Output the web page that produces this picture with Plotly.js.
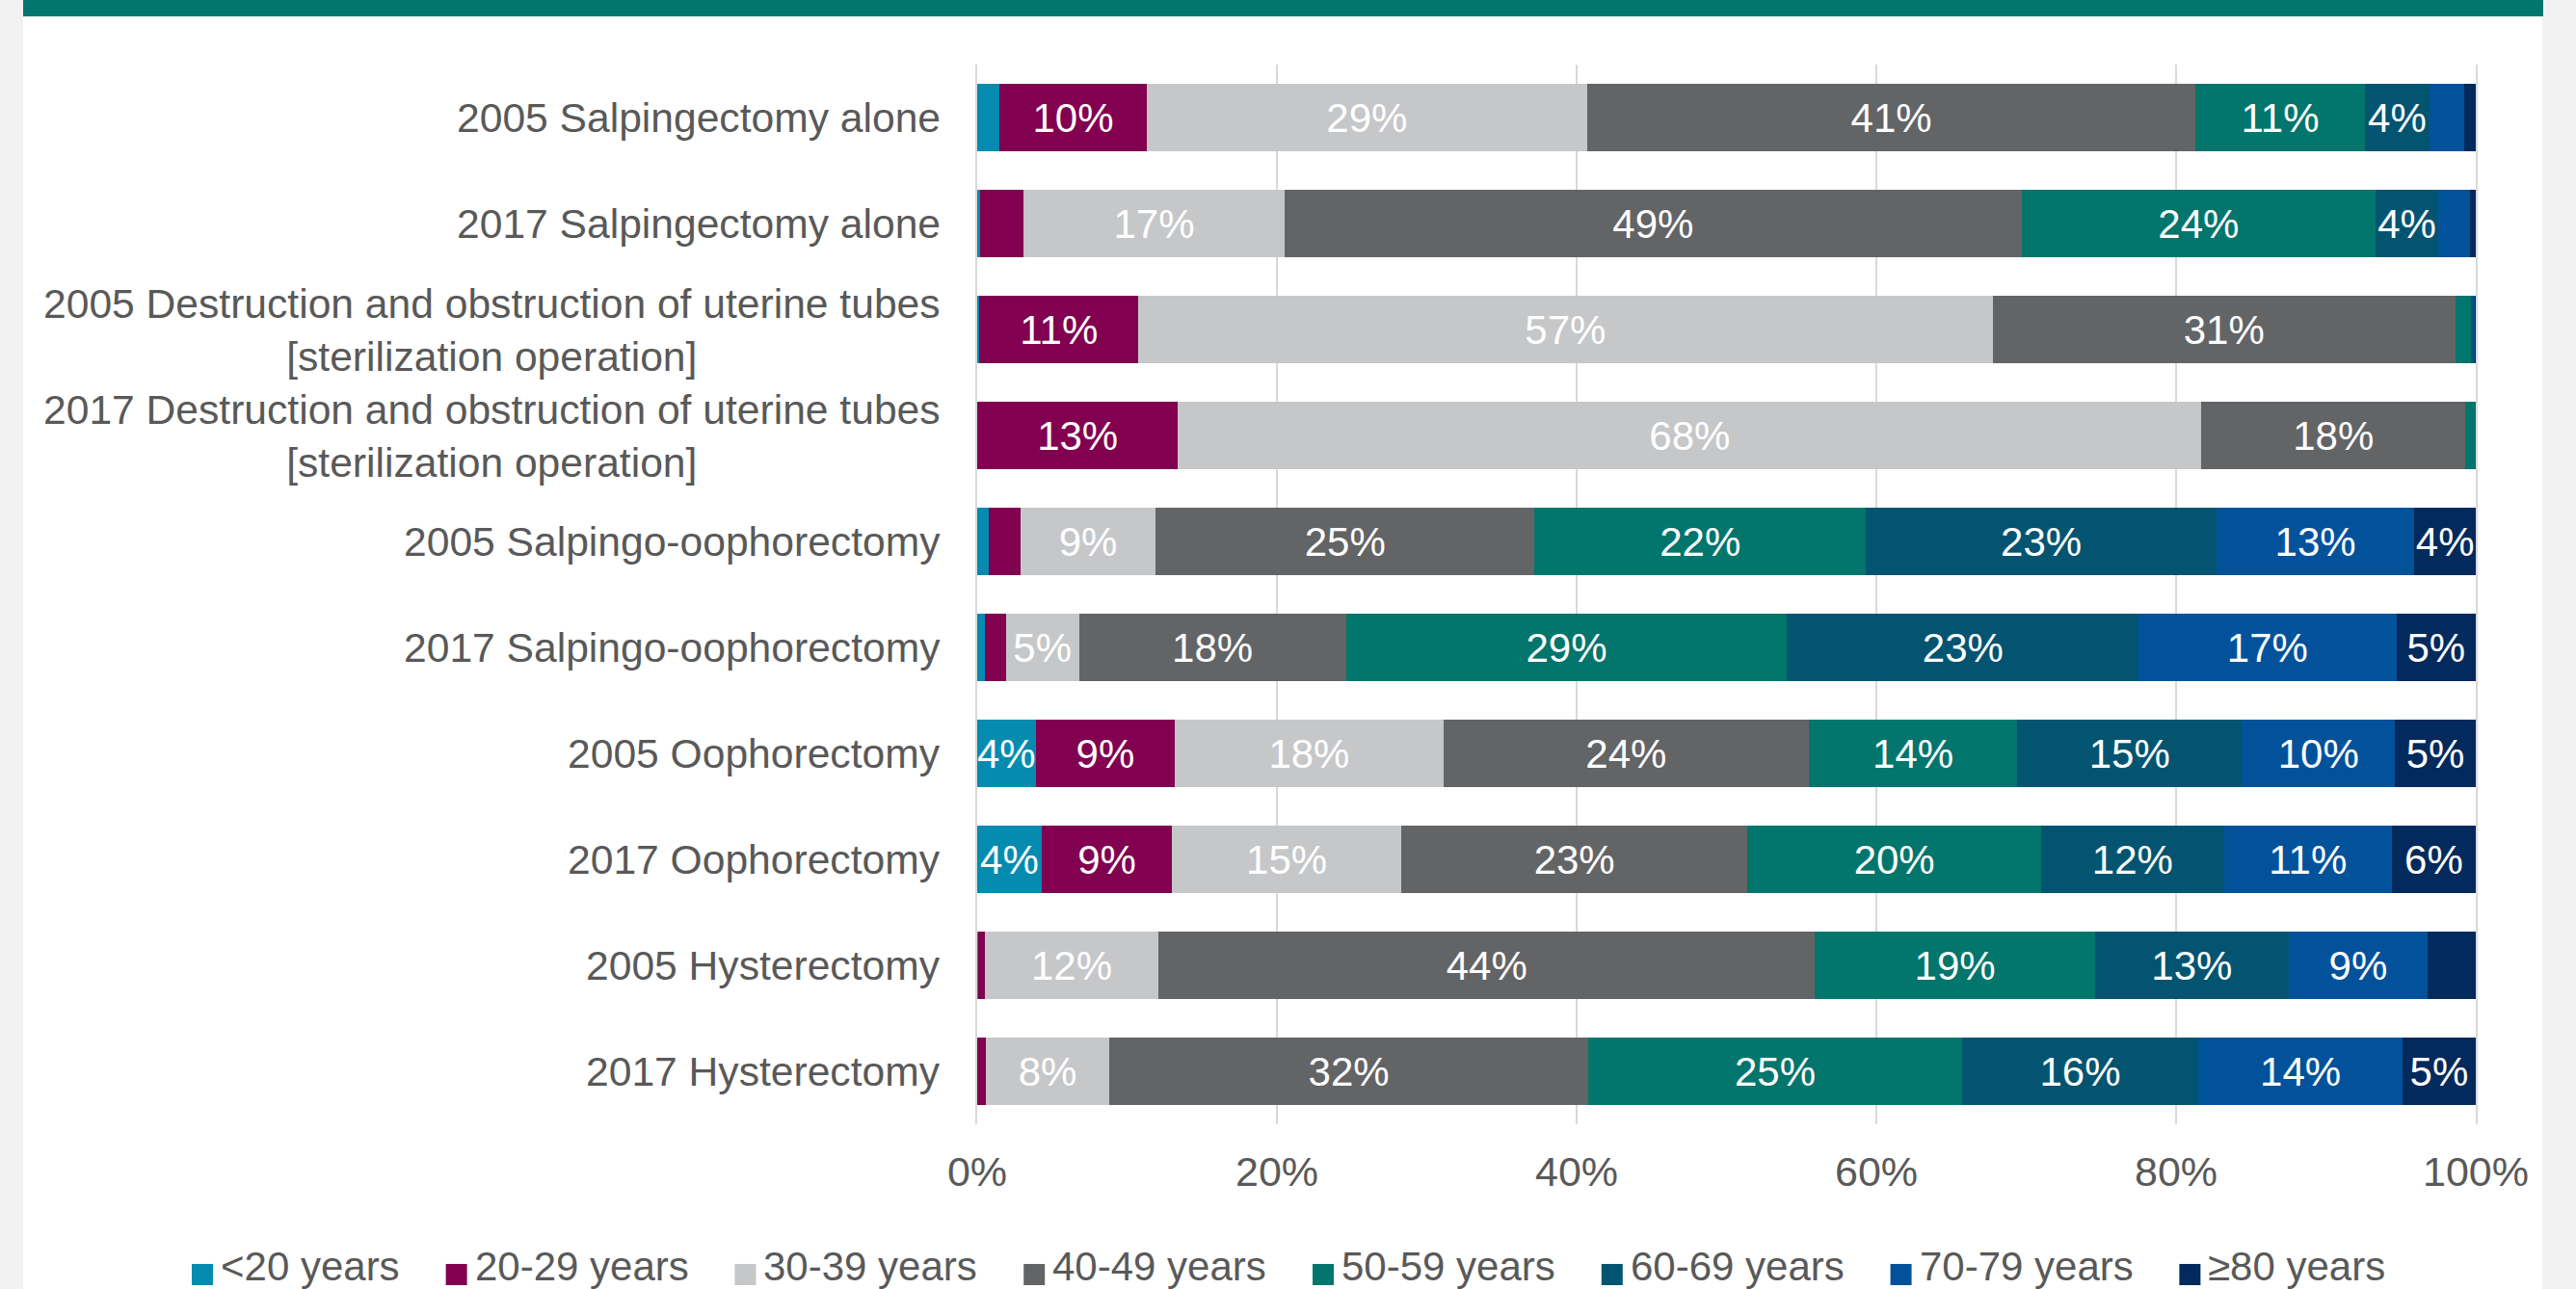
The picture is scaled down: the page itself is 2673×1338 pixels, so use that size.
<!DOCTYPE html>
<html><head><meta charset="utf-8">
<script src="https://cdn.plot.ly/plotly-3.0.1.min.js"></script>
<style>
html,body{margin:0;padding:0;background:#f2f2f2;}
#wrap{position:relative;width:2673px;height:1338px;overflow:hidden;}
#panel{position:absolute;left:24px;top:0;width:2614px;height:1338px;background:#ffffff;}
#band{position:absolute;left:24px;top:0;width:2615px;height:17px;background:#02756c;}
#chart{position:absolute;left:0;top:0;width:2673px;height:1338px;}
</style></head><body>
<div id="wrap"><div id="panel"></div><div id="band"></div><div id="chart"></div></div>
<script>
// Categories (top to bottom)
const categories = [
  "2005 Salpingectomy alone",
  "2017 Salpingectomy alone",
  "2005 Destruction and obstruction of uterine tubes<br>[sterilization operation]",
  "2017 Destruction and obstruction of uterine tubes<br>[sterilization operation]",
  "2005 Salpingo-oophorectomy",
  "2017 Salpingo-oophorectomy",
  "2005 Oophorectomy",
  "2017 Oophorectomy",
  "2005 Hysterectomy",
  "2017 Hysterectomy"
];
const ageGroups = ["<20 years","20-29 years","30-39 years","40-49 years","50-59 years","60-69 years","70-79 years","≥80 years"];

// Percent share of each age group per category
const lt20   = [1.5, 0.2, 0.15, 0,    0.8,  0.5,  3.9,  4.3,  0.05, 0];
const y20_29 = [9.8, 2.9, 10.6, 13.4, 2.1,  1.4,  9.3,  8.7,  0.45, 0.6];
const y30_39 = [29.4,17.4,57.0, 68.3, 9.0,  4.9,  17.9, 15.3, 11.6, 8.2];
const y40_49 = [40.6,49.2,30.9, 17.6, 25.3, 17.8, 24.4, 23.1, 43.8, 32.0];
const y50_59 = [11.3,23.6,1.0,  0.7,  22.1, 29.45,13.9, 19.6, 18.7, 24.9];
const y60_69 = [4.3, 4.2, 0.2,  0,    23.4, 23.45,15.0, 12.2, 12.9, 15.8];
const y70_79 = [2.3, 2.1, 0.1,  0,    13.2, 17.2, 10.2, 11.2, 9.3,  13.6];
const y80    = [0.8, 0.4, 0.05, 0,    4.1,  5.3,  5.4,  5.6,  3.2,  4.9];

const xTicks = [0, 20, 40, 60, 80, 100];

const series = [lt20, y20_29, y30_39, y40_49, y50_59, y60_69, y70_79, y80];
const colors = ["#058bb0","#81004f","#c6c7c9","#636466","#02756c","#025470","#02529b","#022a5c"];

const FONT = '"Liberation Sans", Arial, sans-serif';
const W = 2673, H = 1338;
const L = 1014, R = 104, T = 67, B = 171;
const PW = W - L - R, PH = H - T - B;
const px2x = px => (px - L) / PW;          // page x -> paper x
const px2y = py => (H - B - py) / PH;      // page y -> paper y

const traces = series.map((vals, i) => ({
  type: 'bar',
  orientation: 'h',
  name: ageGroups[i],
  x: vals,
  y: categories,
  marker: {color: colors[i], line: {width: 0}},
  text: vals.map(v => v >= 3.5 ? Math.round(v) + '%' : ''),
  textposition: 'inside',
  insidetextanchor: 'middle',
  constraintext: 'none',
  textangle: 0,
  textfont: {family: FONT, size: 42, color: '#ffffff'},
  hoverinfo: 'skip',
  showlegend: false
}));

// Category labels (lines centred on each other, block right-aligned)
const annotations = categories.map(c => ({
  xref: 'paper', x: 0, xshift: -36, xanchor: 'right',
  yref: 'y', y: c, yanchor: 'middle',
  text: c, align: 'center', showarrow: false,
  font: {family: FONT, size: 42.6, color: '#595959'}
}));

// Legend drawn as swatches + texts laid out like the original
const shapes = [];
const ctx = document.createElement('canvas').getContext('2d');
ctx.font = '42px "Liberation Sans", Arial, sans-serif';
let lx = 199;
const legendTextY = 1314, swTop = 1312, swBot = 1334;
ageGroups.forEach((g, i) => {
  shapes.push({
    type: 'rect', xref: 'paper', yref: 'paper', layer: 'above',
    x0: px2x(lx), x1: px2x(lx + 22), y0: px2y(swBot), y1: px2y(swTop),
    fillcolor: colors[i], line: {width: 0}
  });
  annotations.push({
    xref: 'paper', x: px2x(lx + 29), xanchor: 'left',
    yref: 'paper', y: px2y(legendTextY), yanchor: 'middle',
    text: g, showarrow: false, borderpad: 0,
    font: {family: FONT, size: 42, color: '#595959'}
  });
  lx += 30 + ctx.measureText(g).width + 48;
});

const layout = {
  width: W, height: H,
  margin: {l: L, r: R, t: T, b: B, pad: 0},
  paper_bgcolor: 'rgba(0,0,0,0)',
  plot_bgcolor: 'rgba(0,0,0,0)',
  barmode: 'stack',
  bargap: 0.368,
  showlegend: false,
  xaxis: {
    range: [0, 100], tickvals: xTicks, ticktext: xTicks.map(v => v + '%'),
    showgrid: true, gridcolor: '#d9d9d9', gridwidth: 2,
    zeroline: false, showline: false, ticks: '',
    tickfont: {family: FONT, size: 43, color: '#595959'},
    ticklabelstandoff: 20, fixedrange: true
  },
  yaxis: {
    type: 'category', categoryorder: 'array', categoryarray: categories,
    autorange: 'reversed', showticklabels: false, showgrid: false,
    zeroline: false, showline: true, mirror: true, linecolor: '#d9d9d9', linewidth: 2,
    ticks: '', fixedrange: true
  },
  shapes: shapes,
  annotations: annotations,
  font: {family: FONT, color: '#595959'}
};

Plotly.newPlot('chart', traces, layout, {displayModeBar: false, staticPlot: true});
</script>
</body></html>
